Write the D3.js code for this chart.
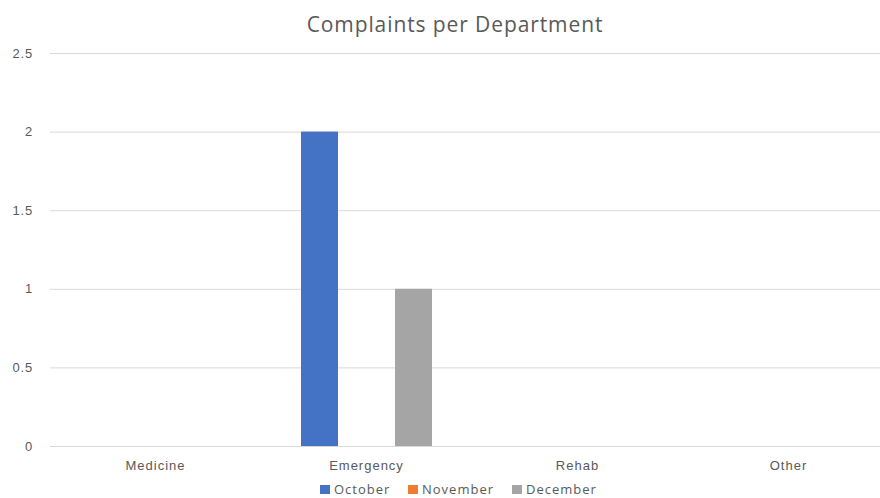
<!DOCTYPE html>
<html>
<head>
<meta charset="utf-8">
<script src="https://cdn.jsdelivr.net/npm/d3@7"></script>
<style>
  body { margin: 0; background: #fff; }
  svg { display: block; font-family: "Open Sans", sans-serif; }
</style>
</head>
<body>
<div id="chart"></div>
<script>
// Chart data
const departments = ["Medicine", "Emergency", "Rehab", "Other"];
const months = ["October", "November", "December"];
const october = [0, 2, 0, 0];
const november = [0, 0, 0, 0];
const december = [0, 1, 0, 0];
const yTicks = [0, 0.5, 1, 1.5, 2, 2.5];
const colors = ["#4472c4", "#ed7d31", "#a5a5a5"];

const seriesValues = [october, november, december];
const rows = departments.map((d, i) => ({
    dept: d,
    values: months.map((m, j) => ({ month: m, value: seriesValues[j][i], color: colors[j] }))
}));

const width = 880, height = 498;
const plot = { left: 50, right: 894, top: 53, bottom: 446 };

const svg = d3.select("#chart").append("svg")
    .attr("width", width)
    .attr("height", height);

const x0 = d3.scaleBand()
    .domain(departments)
    .range([plot.left, plot.right]);

const x1 = d3.scaleBand()
    .domain(months)
    .range([40, x0.bandwidth() - 40])
    .paddingInner(0.213);

const y = d3.scaleLinear()
    .domain([0, 2.5])
    .range([plot.bottom, plot.top]);

// Gridlines + y labels
const yAxis = svg.append("g")
    .attr("transform", `translate(${plot.left},0)`)
    .call(d3.axisLeft(y).tickValues(yTicks).tickSize(-(width - plot.left)).tickPadding(17)
        .tickFormat(d => d));
yAxis.select(".domain").remove();
yAxis.selectAll("line").attr("stroke", "#d9d9d9");
yAxis.selectAll("text")
    .attr("fill", "#595959")
    .style("font-size", "13px")
    .style("letter-spacing", "0.8px");

// Category labels
const xAxis = svg.append("g")
    .attr("transform", `translate(0,${plot.bottom})`)
    .call(d3.axisBottom(x0).tickSize(0).tickPadding(15));
xAxis.select(".domain").remove();
xAxis.selectAll("text")
    .attr("fill", "#595959")
    .style("font-size", "13px")
    .style("letter-spacing", "1px");

// Bars
const groups = svg.append("g").selectAll("g")
    .data(rows)
    .join("g")
    .attr("transform", d => `translate(${x0(d.dept)},0)`);

groups.selectAll("rect")
    .data(d => d.values.filter(v => v.value > 0))
    .join("rect")
    .attr("x", d => x1(d.month))
    .attr("y", d => y(d.value))
    .attr("width", x1.bandwidth())
    .attr("height", d => y(0) - y(d.value))
    .attr("fill", d => d.color);

// Title
svg.append("text")
    .attr("x", 455)
    .attr("y", 32)
    .attr("text-anchor", "middle")
    .attr("fill", "#595959")
    .style("font-size", "21px")
    .style("letter-spacing", "0.9px")
    .text("Complaints per Department");

// Legend
const legendX = [320, 408, 512];
const legend = svg.append("g").selectAll("g")
    .data(months)
    .join("g")
    .attr("transform", (d, i) => `translate(${legendX[i]},485)`);

legend.append("rect")
    .attr("width", 10)
    .attr("height", 9)
    .attr("fill", (d, i) => colors[i]);

legend.append("text")
    .attr("x", 14)
    .attr("y", 9)
    .attr("fill", "#595959")
    .style("font-size", "13px")
    .style("letter-spacing", "1px")
    .text(d => d);
</script>
</body>
</html>
